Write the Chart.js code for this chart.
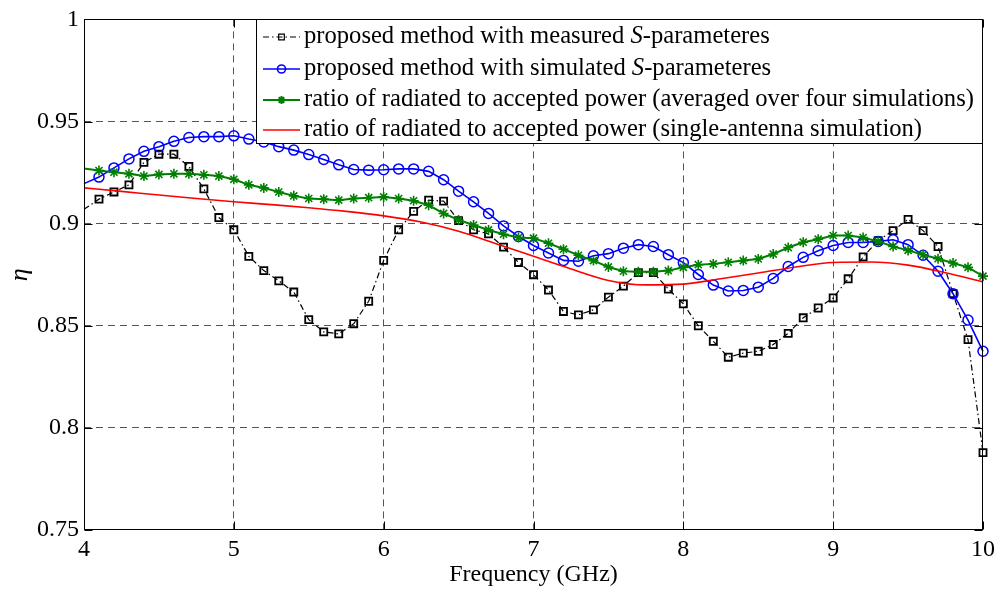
<!DOCTYPE html>
<html>
<head>
<meta charset="utf-8">
<script src="https://cdn.jsdelivr.net/npm/chart.js@4.4.1/dist/chart.umd.min.js"></script>
<style>
    html, body { margin: 0; padding: 0; background: #fff; }
</style>
</head>
<body>
<canvas id="etaChart" width="1000" height="589"></canvas>
<script>
// Frequency grid (GHz) for the three marked curves
const freqs = [
    4.0, 4.1, 4.2, 4.3, 4.4, 4.5, 4.6, 4.7, 4.8, 4.9,
    5.0, 5.1, 5.2, 5.3, 5.4, 5.5, 5.6, 5.7, 5.8, 5.9,
    6.0, 6.1, 6.2, 6.3, 6.4, 6.5, 6.6, 6.7, 6.8, 6.9,
    7.0, 7.1, 7.2, 7.3, 7.4, 7.5, 7.6, 7.7, 7.8, 7.9,
    8.0, 8.1, 8.2, 8.3, 8.4, 8.5, 8.6, 8.7, 8.8, 8.9,
    9.0, 9.1, 9.2, 9.3, 9.4, 9.5, 9.6, 9.7, 9.8, 9.9,
    10.0
];

const measured = [
    0.907, 0.912, 0.9155, 0.919, 0.930, 0.934, 0.934, 0.928, 0.917, 0.903,
    0.897, 0.884, 0.877, 0.872, 0.8665, 0.853, 0.847, 0.846, 0.851, 0.862,
    0.882, 0.897, 0.906, 0.9115, 0.911, 0.9015, 0.897, 0.895, 0.8885, 0.881,
    0.875, 0.8675, 0.857, 0.8553, 0.8578, 0.864, 0.8694, 0.876, 0.876, 0.868,
    0.8607, 0.850, 0.8424, 0.8346, 0.8366, 0.8375, 0.8408, 0.8463, 0.8539, 0.8587,
    0.8636, 0.873, 0.8837, 0.8917, 0.8966, 0.9021, 0.8966, 0.8888, 0.8657, 0.8432,
    0.7879
];

const simulated = [
    0.9196, 0.9228, 0.9273, 0.9317, 0.9354, 0.9377, 0.9403, 0.9422, 0.9426, 0.9426,
    0.943, 0.9414, 0.940, 0.9377, 0.936, 0.9338, 0.9314, 0.9288, 0.9265, 0.9262,
    0.9264, 0.9268, 0.9268, 0.9256, 0.9215, 0.9159, 0.9107, 0.905, 0.8989, 0.8937,
    0.8893, 0.8856, 0.882, 0.8816, 0.8843, 0.8853, 0.888, 0.8897, 0.8888, 0.8848,
    0.8809, 0.8751, 0.8699, 0.867, 0.8673, 0.8689, 0.8732, 0.879, 0.8835, 0.8867,
    0.8893, 0.8908, 0.8908, 0.8913, 0.8921, 0.8897, 0.8845, 0.8767, 0.8657, 0.8528,
    0.8375
];

const averaged = [
    0.927, 0.926, 0.9252, 0.9244, 0.9233, 0.9241, 0.9244, 0.9244, 0.9239, 0.9233,
    0.9217, 0.919, 0.9175, 0.9155, 0.9136, 0.9123, 0.912, 0.9115, 0.9123, 0.9127,
    0.9131, 0.9123, 0.9112, 0.909, 0.905, 0.9018, 0.8993, 0.8969, 0.8948, 0.8932,
    0.8929, 0.8904, 0.8875, 0.8845, 0.8819, 0.8788, 0.8767, 0.8764, 0.8764, 0.877,
    0.8786, 0.8799, 0.8803, 0.8811, 0.8819, 0.8827, 0.8851, 0.8883, 0.8909, 0.8924,
    0.8942, 0.8942, 0.8932, 0.8913, 0.8888, 0.8869, 0.8848, 0.8828, 0.8807, 0.8786,
    0.8743
];

// single-antenna curve (smooth, no markers)
const freqsSingle = [
    4.0, 4.25, 4.5, 4.75, 5.0, 5.25, 5.5, 5.75, 6.0, 6.25, 6.5, 6.75, 7.0,
    7.25, 7.5, 7.75, 8.0, 8.25, 8.5, 8.75, 9.0, 9.25, 9.5, 9.75, 10.0
];
const single = [
    0.9175, 0.9158, 0.9140, 0.9123, 0.9107, 0.9093, 0.9078, 0.9060, 0.9038, 0.9008, 0.8963, 0.8902, 0.8840,
    0.8778, 0.8722, 0.8700, 0.8704, 0.8730, 0.8758, 0.8788, 0.8810, 0.8812, 0.8797, 0.8760, 0.8715
];

const xTicks = [4, 5, 6, 7, 8, 9, 10];
const yTicks = [0.75, 0.8, 0.85, 0.9, 0.95, 1];

const legendLabels = [
    ['proposed method with measured ', 'S', '-parameteres'],
    ['proposed method with simulated ', 'S', '-parameteres'],
    ['ratio of radiated to accepted power (averaged over four simulations)'],
    ['ratio of radiated to accepted power (single-antenna simulation)']
];

const FONT = '"Liberation Serif", "Times New Roman", serif';

function toPoints(xs, ys) {
    return xs.map((x, i) => ({ x: x, y: ys[i] }));
}

// no marker on the first sample (clipped in the original figure)
function markerRadius(r) {
    return function(c) { return c.dataIndex === 0 ? 0 : r; };
}

// box, inward ticks and boxed legend
const frameAndLegend = {
    id: 'frameAndLegend',
    afterDatasetsDraw(chart) {
        const ctx = chart.ctx;
        const a = chart.chartArea;
        const xs = chart.scales.x;
        const ys = chart.scales.y;
        const L = Math.round(a.left) + 0.5, R = Math.round(a.right) - 0.5;
        const T = Math.round(a.top) + 0.5, B = Math.round(a.bottom) - 0.5;

        ctx.save();
        ctx.setLineDash([]);
        ctx.strokeStyle = '#000';
        ctx.lineWidth = 1;
        ctx.strokeRect(L, T, R - L, B - T);

        ctx.beginPath();
        xTicks.forEach(v => {
            const px = Math.round(xs.getPixelForValue(v)) + 0.5;
            ctx.moveTo(px, B); ctx.lineTo(px, B - 8);
            ctx.moveTo(px, T); ctx.lineTo(px, T + 8);
        });
        yTicks.forEach(v => {
            const py = Math.round(ys.getPixelForValue(v)) + 0.5;
            ctx.moveTo(L, py); ctx.lineTo(L + 8, py);
            ctx.moveTo(R, py); ctx.lineTo(R - 8, py);
        });
        ctx.stroke();

        // legend
        const boxL = 256.5, boxT = T, boxR = R, boxB = 143.5;
        ctx.fillStyle = '#fff';
        ctx.fillRect(boxL, boxT, boxR - boxL, boxB - boxT);
        ctx.strokeRect(boxL, boxT, boxR - boxL, boxB - boxT);

        const rowY = [37, 69, 100, 130];
        chart.data.datasets.forEach((ds, i) => {
            const y = rowY[i];
            ctx.save();
            ctx.strokeStyle = ds.borderColor;
            ctx.lineWidth = ds.borderWidth;
            ctx.setLineDash(ds.borderDash || []);
            ctx.beginPath();
            ctx.moveTo(263, y);
            ctx.lineTo(300, y);
            ctx.stroke();
            ctx.setLineDash([]);
            if (ds.legendMarker) {
                ctx.strokeStyle = ds.borderColor;
                ctx.fillStyle = 'rgba(0,0,0,0)';
                Chart.helpers.drawPoint(ctx, {
                    pointStyle: ds.pointStyle,
                    radius: 4,
                    rotation: 0,
                    borderWidth: 1.5
                }, 281.5, y);
            }
            ctx.restore();

            ctx.fillStyle = '#000';
            ctx.textBaseline = 'middle';
            ctx.textAlign = 'left';
            let x = 304;
            legendLabels[i].forEach((part, k) => {
                ctx.font = (k === 1 ? 'italic ' : '') + '24.6px ' + FONT;
                ctx.fillText(part, x, y);
                x += ctx.measureText(part).width;
            });
        });
        ctx.restore();
    }
};

const canvas = document.getElementById('etaChart');
new Chart(canvas.getContext('2d'), {
    type: 'line',
    data: {
        datasets: [
            {
                label: 'measured',
                data: toPoints(freqs, measured),
                borderColor: '#000000',
                borderWidth: 1.2,
                borderDash: [6, 3, 1.5, 3],
                pointStyle: 'rect',
                pointRadius: markerRadius(5),
                pointBorderWidth: 1.8,
                pointBorderColor: '#000000',
                pointBackgroundColor: 'rgba(0,0,0,0)',
                legendMarker: true,
                tension: 0,
                clip: false,
                order: 4
            },
            {
                label: 'simulated',
                data: toPoints(freqs, simulated),
                borderColor: '#0000ff',
                borderWidth: 1.6,
                pointStyle: 'circle',
                pointRadius: markerRadius(5),
                pointBorderWidth: 1.5,
                pointBorderColor: '#0000ff',
                pointBackgroundColor: 'rgba(0,0,0,0)',
                legendMarker: true,
                tension: 0,
                clip: false,
                order: 3
            },
            {
                label: 'averaged',
                data: toPoints(freqs, averaged),
                borderColor: '#008000',
                borderWidth: 2,
                pointStyle: 'star',
                pointRadius: markerRadius(5),
                pointBorderWidth: 1.6,
                pointBorderColor: '#008000',
                pointBackgroundColor: '#008000',
                legendMarker: true,
                tension: 0,
                clip: false,
                order: 2
            },
            {
                label: 'single',
                data: toPoints(freqsSingle, single),
                borderColor: '#ff0000',
                borderWidth: 1.6,
                pointRadius: 0,
                legendMarker: false,
                tension: 0.4,
                cubicInterpolationMode: 'monotone',
                order: 1
            }
        ]
    },
    options: {
        responsive: false,
        animation: false,
        layout: {
            padding: { top: 15, right: 16, left: 0, bottom: 0 }
        },
        plugins: {
            legend: { display: false },
            tooltip: { enabled: false }
        },
        scales: {
            x: {
                type: 'linear',
                min: 4,
                max: 10,
                afterBuildTicks: function(scale) {
                    scale.ticks = xTicks.map(v => ({ value: v }));
                },
                afterFit: function(scale) { scale.height = 59; },
                ticks: {
                    padding: 5,
                    color: '#000',
                    font: { family: FONT, size: 24 },
                    maxRotation: 0,
                    autoSkip: false
                },
                grid: {
                    drawTicks: false,
                    color: function(c) {
                        return (c.tick && (c.tick.value === 4 || c.tick.value === 10)) ? 'rgba(0,0,0,0)' : '#555';
                    },
                    lineWidth: 1
                },
                border: { display: false, dash: [7, 5] },
                title: {
                    display: true,
                    text: 'Frequency (GHz)',
                    color: '#000',
                    font: { family: FONT, size: 24 },
                    padding: { top: 0, bottom: 0 }
                }
            },
            y: {
                min: 0.75,
                max: 1,
                afterBuildTicks: function(scale) {
                    scale.ticks = yTicks.map(v => ({ value: v }));
                },
                afterFit: function(scale) { scale.width = 84; },
                ticks: {
                    padding: 5,
                    color: '#000',
                    font: { family: FONT, size: 24 },
                    callback: function(value) {
                        return String(Math.round(value * 100) / 100);
                    }
                },
                grid: {
                    drawTicks: false,
                    color: function(c) {
                        return (c.tick && (c.tick.value === 0.75 || c.tick.value === 1)) ? 'rgba(0,0,0,0)' : '#555';
                    },
                    lineWidth: 1
                },
                border: { display: false, dash: [7, 5] },
                title: {
                    display: true,
                    text: 'η',
                    color: '#000',
                    font: { family: FONT, size: 26, style: 'italic' },
                    padding: { top: 5, bottom: 0 }
                }
            }
        }
    },
    plugins: [frameAndLegend]
});
</script>
</body>
</html>
